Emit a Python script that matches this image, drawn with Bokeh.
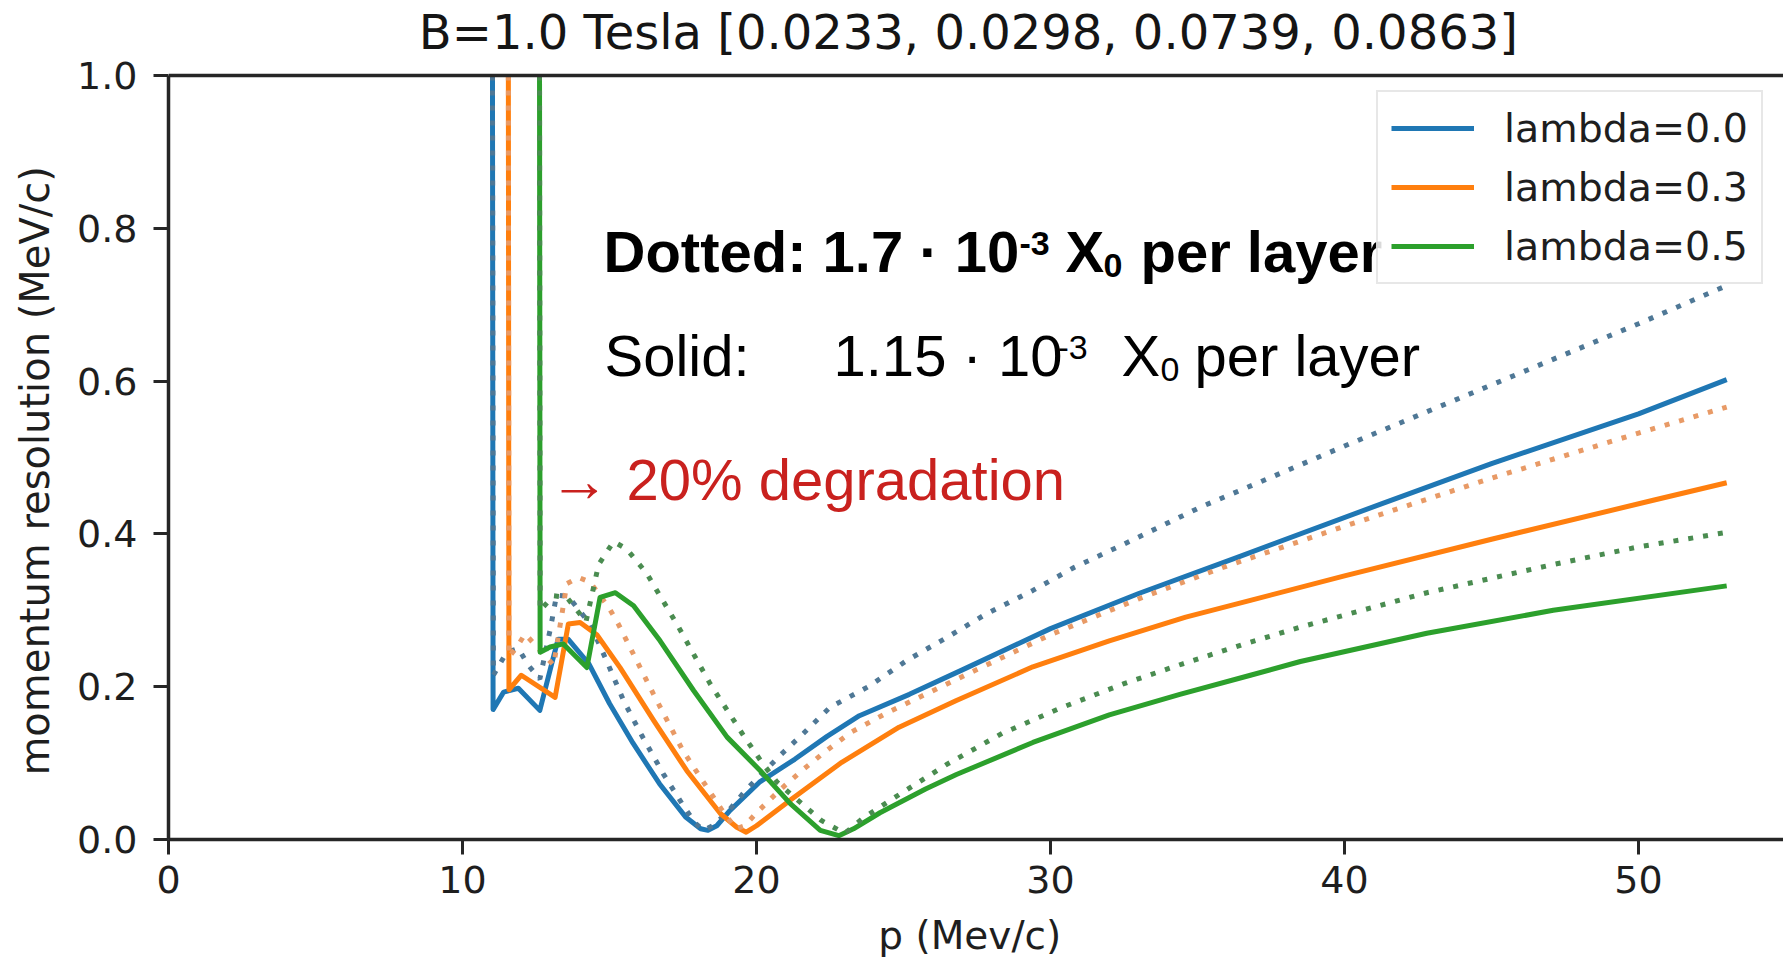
from bokeh.plotting import figure
from bokeh.models import Range1d, FixedTicker, PrintfTickFormatter, Legend, LegendItem, Label, Span
from bokeh.embed import file_html
from bokeh.resources import INLINE

# ---------------- data ----------------
title_text = "B=1.0 Tesla  [0.0233, 0.0298, 0.0739, 0.0863]"
x_label = "p  (Mev/c)"
y_label = "momentum resolution  (MeV/c)"
x_ticks = [0, 10, 20, 30, 40, 50]
y_ticks = [0.0, 0.2, 0.4, 0.6, 0.8, 1.0]
series_labels = ["lambda=0.0", "lambda=0.3", "lambda=0.5"]

# lambda = 0.0, solid (1.15e-3 X0 per layer); first point = curve leaving the top of the axes
blue_solid_p = [11.02, 11.04, 11.4, 11.9, 12.63, 13.0, 13.25, 13.6, 14.3, 15.0, 15.8, 16.7, 17.6, 18.1,
                18.35, 18.65, 19.1, 20.1, 21.3, 22.4, 23.5, 25.2, 27.0, 30.0, 33.0, 36.4, 41.3, 45.0, 50.0, 53.0]
blue_solid_r = [1.0, 0.17, 0.193, 0.198, 0.169, 0.225, 0.262, 0.262, 0.23, 0.178, 0.126, 0.073, 0.029, 0.014,
                0.012, 0.018, 0.038, 0.075, 0.105, 0.135, 0.162, 0.19, 0.222, 0.276, 0.322, 0.37, 0.44, 0.492, 0.557, 0.602]
# lambda = 0.0, dotted (1.7e-3 X0 per layer)
blue_dot_p = [11.02, 11.05, 11.5, 11.9, 12.24, 12.63, 13.0, 13.2, 13.6, 14.34, 14.9, 15.5, 16.1, 16.83, 17.5,
              17.9, 18.2, 18.6, 19.1, 19.67, 20.8, 21.6, 22.5, 23.8, 25.1, 26.5, 27.8, 29.4, 30.8, 32.3, 33.7,
              35.1, 36.7, 40.0, 45.0, 50.0, 53.0]
blue_dot_r = [1.0, 0.215, 0.245, 0.25, 0.228, 0.21, 0.278, 0.32, 0.318, 0.282, 0.234, 0.18, 0.136, 0.086, 0.045,
              0.022, 0.012, 0.02, 0.04, 0.066, 0.11, 0.139, 0.173, 0.2, 0.234, 0.265, 0.295, 0.326, 0.356, 0.383, 0.409,
              0.435, 0.461, 0.515, 0.595, 0.675, 0.725]
# lambda = 0.3, solid
orange_solid_p = [11.56, 11.58, 12.0, 13.15, 13.6, 14.0, 14.57, 15.36, 16.5, 17.63, 18.77, 19.33, 19.65, 20.0,
                  21.2, 22.9, 24.85, 26.8, 29.4, 32.0, 34.6, 36.8, 40.0, 45.0, 50.5, 53.0]
orange_solid_r = [1.0, 0.196, 0.215, 0.186, 0.282, 0.284, 0.268, 0.225, 0.156, 0.09, 0.034, 0.016, 0.0096, 0.018,
                  0.053, 0.101, 0.147, 0.182, 0.226, 0.26, 0.291, 0.313, 0.345, 0.393, 0.444, 0.467]
# lambda = 0.3, dotted
orange_dot_p = [11.56, 11.58, 11.85, 12.13, 13.1, 13.55, 13.95, 14.34, 15.0, 15.3, 16.5, 17.5, 18.08, 18.8, 19.3,
                19.6, 20.0, 20.8, 21.6, 22.4, 23.2, 24.4, 25.75, 27.2, 28.9, 30.0, 33.0, 36.0, 40.0, 45.0, 50.0, 53.0]
orange_dot_r = [1.0, 0.239, 0.252, 0.269, 0.228, 0.335, 0.343, 0.337, 0.302, 0.282, 0.19, 0.116, 0.082, 0.04, 0.014,
                0.018, 0.035, 0.065, 0.092, 0.117, 0.14, 0.165, 0.19, 0.217, 0.248, 0.268, 0.315, 0.358, 0.41, 0.473, 0.532, 0.566]
# lambda = 0.5, solid
green_solid_p = [12.62, 12.64, 12.98, 13.43, 14.23, 14.68, 15.2, 15.82, 16.72, 17.86, 19.0, 20.13, 21.15, 22.17,
                 22.8, 23.3, 24.2, 25.75, 26.8, 29.4, 32.0, 34.4, 36.8, 38.5, 42.8, 47.1, 53.0]
green_solid_r = [1.0, 0.245, 0.252, 0.256, 0.225, 0.317, 0.323, 0.306, 0.26, 0.195, 0.134, 0.09, 0.047, 0.012,
                 0.005, 0.014, 0.035, 0.066, 0.085, 0.127, 0.163, 0.19, 0.215, 0.233, 0.27, 0.30, 0.332]
# lambda = 0.5, dotted
green_dot_p = [12.62, 12.64, 13.1, 13.55, 14.2, 14.63, 15.14, 15.59, 16.27, 17.35, 18.42, 19.56, 20.2, 20.7, 21.6,
               22.2, 23.0, 23.66, 24.7, 26.5, 28.36, 30.4, 32.5, 34.5, 36.6, 38.5, 42.8, 47.1, 50.0, 53.0]
green_dot_r = [1.0, 0.30, 0.319, 0.317, 0.285, 0.36, 0.39, 0.38, 0.348, 0.278, 0.204, 0.136, 0.1, 0.075, 0.045,
               0.025, 0.008, 0.029, 0.055, 0.099, 0.139, 0.173, 0.204, 0.23, 0.256, 0.278, 0.323, 0.36, 0.383, 0.402]

# ---------------- styling ----------------
BLUE, ORANGE, GREEN = "#1f77b4", "#ff7f0e", "#2ca02c"
BLUE_D, ORANGE_D, GREEN_D = "#4f7896", "#e89a66", "#4a8c50"
AX = "#262626"
FRAME_L, AXES_T, FRAME_B = 168, 75, 839     # axes box: left, top (y=1.0), bottom (y=0)
PX_PER_X = 29.4
PX_PER_Y = 764.0
W, H = 1783, 961
x_end = (W - FRAME_L) / PX_PER_X
y_end = 1.0 + AXES_T / PX_PER_Y      # frame reaches the top of the page; y=1.0 sits at the axes top


def px(X, Y):
    """pixel position on the page -> data coordinates (for annotation placement only)"""
    return (X - FRAME_L) / PX_PER_X, (FRAME_B - Y) / PX_PER_Y


p = figure(width=W, height=H, output_backend="svg", toolbar_location=None,
           x_range=Range1d(0, x_end), y_range=Range1d(0, y_end),
           min_border_left=FRAME_L, min_border_right=0, min_border_top=0,
           min_border_bottom=H - FRAME_B)
p.outline_line_color = None
p.grid.visible = False
p.background_fill_color = "white"
p.border_fill_color = "white"

for ax in (p.xaxis[0], p.yaxis[0]):
    ax.axis_line_width = 3.5
    ax.axis_line_color = AX
    ax.major_tick_line_width = 3
    ax.major_tick_line_color = AX
    ax.major_tick_out = 15
    ax.major_tick_in = 0
    ax.minor_tick_line_color = None
    ax.major_label_text_font = "DejaVu Sans"
    ax.major_label_text_font_size = "38px"
    ax.major_label_text_color = "#1e1e1e"
    ax.axis_label_text_font = "DejaVu Sans"
    ax.axis_label_text_font_style = "normal"
    ax.axis_label_text_color = "#1e1e1e"

p.xaxis.ticker = FixedTicker(ticks=x_ticks)
p.xaxis.formatter = PrintfTickFormatter(format="%d")
p.xaxis.major_label_standoff = 11
p.xaxis.axis_label = x_label
p.xaxis.axis_label_text_font_size = "39px"
p.xaxis.axis_label_standoff = 17
p.yaxis.ticker = FixedTicker(ticks=y_ticks)
p.yaxis.formatter = PrintfTickFormatter(format="%.1f")
p.yaxis.bounds = (0, 1.0)
p.yaxis.major_label_standoff = 16
# the frame runs up to the page top, so pad the label's far end (non-breaking spaces)
# to keep it centred on the axes box as in the original
p.yaxis.axis_label = y_label + "\u00a0" * 7
p.yaxis.axis_label_text_font_size = "40px"
p.yaxis.axis_label_standoff = 16

# top edge of the axes box
p.add_layout(Span(location=1.0, dimension="width", line_color=AX, line_width=3.5))

LW = 5
DASH = "5 10"
rb = p.line(blue_solid_p, blue_solid_r, line_color=BLUE, line_width=LW, line_join="round")
p.line(blue_dot_p, blue_dot_r, line_color=BLUE_D, line_width=LW, line_dash=DASH)
ro = p.line(orange_solid_p, orange_solid_r, line_color=ORANGE, line_width=LW, line_join="round")
p.line(orange_dot_p, orange_dot_r, line_color=ORANGE_D, line_width=LW, line_dash=DASH)
rg = p.line(green_solid_p, green_solid_r, line_color=GREEN, line_width=LW, line_join="round")
p.line(green_dot_p, green_dot_r, line_color=GREEN_D, line_width=LW, line_dash=DASH)

legend = Legend(items=[LegendItem(label=series_labels[0], renderers=[rb]),
                       LegendItem(label=series_labels[1], renderers=[ro]),
                       LegendItem(label=series_labels[2], renderers=[rg])],
                location=(1376 - FRAME_L, FRAME_B - 284))
legend.glyph_width = 83
legend.glyph_height = 40
legend.label_height = 40
legend.label_standoff = 30
legend.padding = 13
legend.spacing = 13
legend.margin = 0
legend.label_text_font = "DejaVu Sans"
legend.label_text_font_size = "39.5px"
legend.label_text_color = "#1e1e1e"
legend.border_line_color = "#cfcfcf"
legend.border_line_width = 2
legend.background_fill_alpha = 0.85
p.add_layout(legend)

SANS = "Liberation Sans"
BIG = 58
SMALL = 34
RED = "#c9211e"


def add_text(X, baseline, text, size=BIG, style="normal", color="black", font=SANS, align="left"):
    # Bokeh places the alphabetic baseline about 0.37 em below the given y; compensate
    x, y = px(X, baseline - 0.37 * size)
    p.add_layout(Label(x=x, y=y, text=text, text_font=font, text_font_size=f"{size}px",
                       text_font_style=style, text_color=color, text_baseline="alphabetic",
                       text_align=align))


# title (above the axes box)
add_text(975.5, 49, title_text, size=48, color="#151515", font="DejaVu Sans", align="center")

# Dotted: 1.7 · 10^-3 X_0 per layer  (bold)
add_text(603, 272, "Dotted: 1.7 · 10", style="bold")
add_text(1019, 256, "-3", size=SMALL, style="bold")
add_text(1065, 272, "X", style="bold")
add_text(1103, 278, "0", size=SMALL, style="bold")
add_text(1140, 272, "per layer", style="bold")
# Solid: 1.15 · 10^-3 X_0 per layer
add_text(604, 376, "Solid:")
add_text(833, 376, "1.15 · 10")
add_text(1057, 360, "-3", size=SMALL)
add_text(1121, 376, "X")
add_text(1160, 382, "0", size=SMALL)
add_text(1194, 376, "per layer")
# → 20% degradation
add_text(549, 502, "→", size=60, color=RED)
add_text(626, 500, "20% degradation", color=RED)

open("out.html", "w").write(file_html(p, INLINE))
